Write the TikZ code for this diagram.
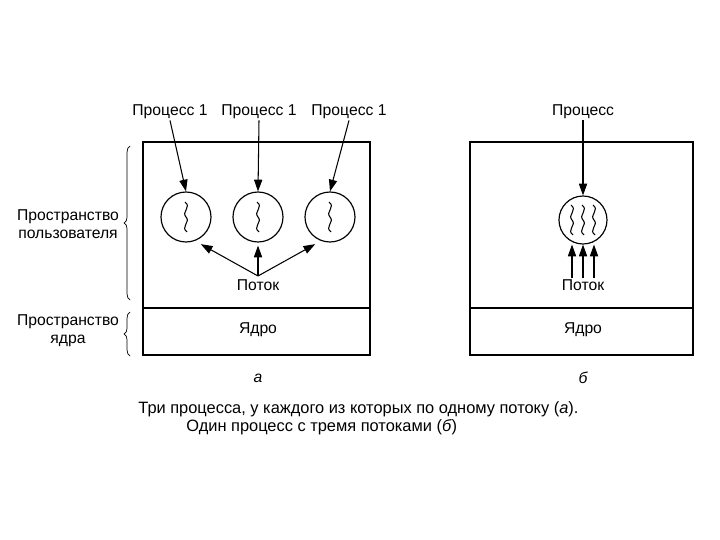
\documentclass[tikz,border=0pt]{standalone}
\usepackage{fontspec}
\setmainfont{Liberation Sans}
\usetikzlibrary{arrows.meta,decorations.pathreplacing,calc}
\tikzset{
  lbl/.style={font=\fontsize{13.4}{15}\selectfont, inner sep=1pt},
  caplbl/.style={font=\fontsize{14}{16}\selectfont, inner sep=1pt, anchor=west},
  proc/.style={circle, draw, line width=1pt, minimum size=50*0.03cm, inner sep=0pt},
  arr/.style={line width=0.9pt, -{Triangle[length=10pt,width=7pt]}},
  frame/.style={draw, line width=1.1pt},
  brc/.style={decorate, decoration={brace, amplitude=5pt}, line width=0.6pt},
  wave/.style={line width=0.9pt}
}
\newcommand{\thr}[2]{%
  \draw[wave] (#1-1,#2-15) .. controls (#1+6,#2-10) and (#1-5,#2-5) .. (#1,#2)
     .. controls (#1+5,#2+5) and (#1-6,#2+10) .. (#1+1,#2+15);}
\begin{document}
\begin{tikzpicture}[x=0.03cm,y=-0.03cm]
\useasboundingbox (0,0) rectangle (720,540);
% frames
\draw[frame] (143,142) rectangle (370,355);
\draw[frame] (143,308) -- (370,308);
\draw[frame] (470,142) rectangle (693,355);
\draw[frame] (470,308) -- (693,308);
% left panel
\node[lbl] (p1) at (170,112) {Процесс 1};
\node[lbl] (p2) at (259,112) {Процесс 1};
\node[lbl] (p3) at (349,112) {Процесс 1};
\node[proc] (c1) at (186,217) {};
\node[proc] (c2) at (258,217) {};
\node[proc] (c3) at (330,217) {};
\thr{186}{217}\thr{258}{217}\thr{330}{217}
\draw[arr] (p1.south) -- (c1.north);
\draw[arr] (p2.south) -- (c2.north);
\draw[arr] (p3.south) -- (c3.north);
\node[lbl] (t1) at (258,285) {Поток};
\coordinate (t1s) at (258,276);
\draw[arr] (t1s) -- ($(c1.-60)+(2,5)$);
\draw[arr] (t1s) -- ($(c2.south)+(0,3)$);
\draw[arr] (t1s) -- ($(c3.-120)+(-2,5)$);
\node[lbl] (k1) at (258,330) {Ядро};
\node[lbl] (a) at (258,378) {\itshape а};
% right panel
\node[lbl] (p4) at (583,112) {Процесс};
\node[proc, minimum size=48*0.03cm] (c4) at (583,220) {};
\thr{572}{220}\thr{583}{220}\thr{594}{220}
\draw[arr] (p4.south) -- (c4.north);
\node[lbl] (t2) at (583,285) {Поток};
\draw[arr] ($(t2.north)+(-11,0)$) -- ($(c4.south)+(-11,0)$);
\draw[arr] (t2.north) -- (c4.south);
\draw[arr] ($(t2.north)+(11,0)$) -- ($(c4.south)+(11,0)$);
\node[lbl] (k2) at (583,330) {Ядро};
\node[lbl] (b) at (583,378) {\itshape б};
% braces
\draw[brc] (130,300) -- (130,146);
\draw[brc] (130,356) -- (130,312);
\node[lbl, align=center] (us) at (68,224) {Пространство\\пользователя};
\node[lbl, align=center] (ks) at (68,331) {Пространство\\ядра};
% caption
\node[caplbl] (cap1) at (137,409) {Три процесса, у каждого из которых по одному потоку (\textit{а}).};
\node[caplbl] (cap2) at (185,427) {Один процесс с тремя потоками (\textit{б})};
\end{tikzpicture}
\end{document}
